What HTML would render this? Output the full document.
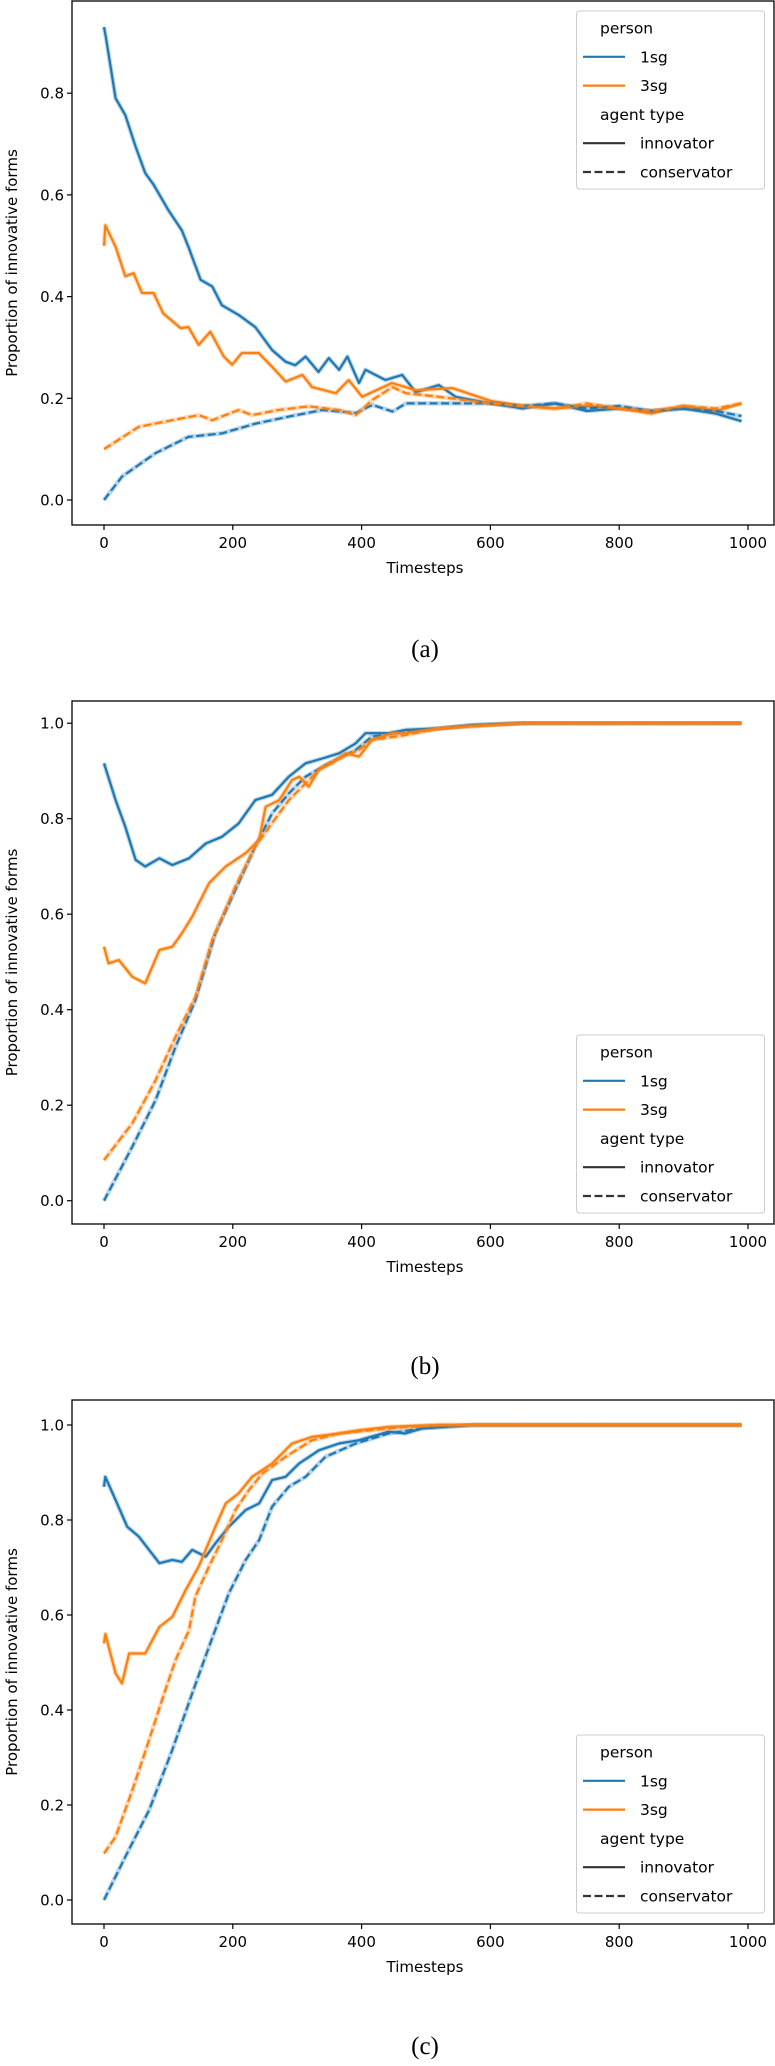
<!DOCTYPE html>
<html><head><meta charset="utf-8"><style>
body{margin:0;background:#fff;width:775px;height:2066px;overflow:hidden}
svg{display:block}
text{font-family:"DejaVu Sans","Liberation Sans",sans-serif;fill:#000}
.cap{font-family:"Liberation Serif",serif;font-size:25px}
</style></head><body>
<svg id="fig" width="775" height="2066" viewBox="0 0 775 2066" xmlns="http://www.w3.org/2000/svg"></svg>
<script>
const xTicks=[0,200,400,600,800,1000];
const yTicksA=[0,0.2,0.4,0.6,0.8];
const yTicksBC=[0,0.2,0.4,0.6,0.8,1.0];
// Panel (a)
const aInnov1T=[0,3,18,33,49,64,77,100,121,131,150,168,183,209,235,261,282,297,313,333,349,365,378,396,406,437,463,484,520,546,600,650,700,750,800,850,900,950,990];
const aInnov1V=[0.93,0.91,0.79,0.757,0.695,0.643,0.62,0.57,0.53,0.498,0.433,0.42,0.383,0.364,0.34,0.295,0.272,0.265,0.282,0.252,0.279,0.256,0.282,0.23,0.256,0.236,0.246,0.212,0.226,0.203,0.19,0.18,0.19,0.175,0.18,0.175,0.18,0.17,0.155];
const aInnov3T=[0,2,18,33,46,59,77,92,119,131,147,165,186,199,214,240,261,282,308,323,360,380,401,447,484,541,600,650,700,750,800,850,900,950,990];
const aInnov3V=[0.5,0.54,0.498,0.44,0.446,0.407,0.407,0.367,0.338,0.34,0.305,0.331,0.282,0.266,0.289,0.289,0.262,0.233,0.246,0.222,0.21,0.236,0.203,0.23,0.216,0.22,0.195,0.185,0.18,0.185,0.18,0.17,0.185,0.175,0.19];
const aCons1T=[0,28,80,131,183,235,287,339,391,417,448,469,520,600,650,700,750,800,850,900,950,990];
const aCons1V=[0,0.046,0.092,0.124,0.131,0.15,0.164,0.177,0.171,0.187,0.174,0.19,0.19,0.19,0.185,0.19,0.18,0.185,0.175,0.18,0.175,0.165];
const aCons3T=[0,54,106,147,168,209,230,271,318,365,391,417,448,469,520,600,650,700,750,800,850,900,950,990];
const aCons3V=[0.1,0.144,0.157,0.167,0.157,0.177,0.167,0.177,0.184,0.177,0.167,0.197,0.222,0.21,0.203,0.19,0.185,0.18,0.19,0.18,0.175,0.185,0.18,0.19];
// Panel (b)
const bInnov1T=[0,18,33,49,64,86,106,132,158,183,209,235,261,287,313,339,365,391,406,442,468,520,572,650,800,990];
const bInnov1V=[0.916,0.839,0.783,0.714,0.70,0.717,0.703,0.717,0.748,0.762,0.79,0.839,0.85,0.888,0.916,0.926,0.937,0.958,0.979,0.979,0.986,0.989,0.996,1.0,1.0,1.0];
const bInnov3T=[0,7,23,44,64,86,106,121,137,163,189,220,241,251,272,292,303,318,333,354,375,396,416,447,468,520,572,650,800,990];
const bInnov3V=[0.532,0.497,0.504,0.469,0.455,0.525,0.532,0.56,0.595,0.665,0.70,0.728,0.756,0.825,0.839,0.881,0.888,0.867,0.902,0.916,0.937,0.93,0.965,0.979,0.979,0.989,0.994,1.0,1.0,1.0];
const bCons1T=[0,44,80,111,142,173,204,235,261,287,313,349,391,416,468,520,572,650,800,990];
const bCons1V=[0,0.113,0.21,0.322,0.42,0.56,0.651,0.742,0.811,0.853,0.888,0.916,0.944,0.972,0.982,0.989,0.996,1.0,1.0,1.0];
const bCons3T=[0,44,80,111,142,168,204,235,261,287,313,339,365,396,416,468,520,572,650,800,990];
const bCons3V=[0.085,0.162,0.252,0.343,0.427,0.546,0.658,0.742,0.791,0.839,0.874,0.909,0.926,0.944,0.965,0.975,0.989,0.994,1.0,1.0,1.0];
// Panel (c)
const cInnov1T=[0,2,18,36,54,70,86,106,121,137,158,173,194,220,241,261,282,303,334,365,396,442,468,494,572,700,990];
const cInnov1V=[0.87,0.891,0.842,0.786,0.765,0.737,0.709,0.716,0.712,0.737,0.723,0.751,0.786,0.821,0.835,0.884,0.891,0.919,0.947,0.961,0.968,0.986,0.982,0.993,1.0,1.0,1.0];
const cInnov3T=[0,2,18,28,39,64,86,106,127,147,173,189,209,230,261,292,323,365,396,442,520,700,990];
const cInnov3V=[0.54,0.56,0.477,0.456,0.519,0.519,0.575,0.596,0.653,0.702,0.786,0.835,0.856,0.891,0.919,0.961,0.975,0.982,0.989,0.996,1.0,1.0,1.0];
const cCons3T=[0,18,44,70,90,111,132,142,163,183,204,225,246,282,323,365,416,468,520,700,990];
const cCons3V=[0.098,0.133,0.231,0.337,0.421,0.505,0.568,0.639,0.702,0.758,0.821,0.863,0.898,0.933,0.968,0.982,0.989,0.996,1.0,1.0,1.0];
const cCons1T=[0,33,70,106,137,163,194,220,241,261,287,313,344,391,442,494,572,700,990];
const cCons1V=[0,0.091,0.189,0.316,0.435,0.533,0.646,0.716,0.758,0.828,0.87,0.891,0.933,0.961,0.982,0.993,1.0,1.0,1.0];

const BLUE='#1f77b4',ORANGE='#ff7f0e';
const svg=document.getElementById('fig');
const NS='http://www.w3.org/2000/svg';
function mk(tag,attrs,parent){const e=document.createElementNS(NS,tag);for(const k in attrs)e.setAttribute(k,attrs[k]);(parent||svg).appendChild(e);return e;}

function panel(id,cfg){
  const g=mk('g',{});
  
  
  const L=72,R=774,T=cfg.top,B=cfg.bottom;
  const xs=t=>104+t*0.644;
  const ys=v=>cfg.y0-v*cfg.ypx;
  // ticks
  xTicks.forEach(t=>{
    const x=xs(t);
    const tk=mk('line',{x1:x,x2:x,y1:B,y2:B+5,stroke:'#000','stroke-width':1.2},g);
    
    
    const tl=mk('text',{x:x,y:B+23,'font-size':15,'text-anchor':'middle'},g);tl.textContent=String(t);
    
    
  });
  cfg.yTicks.forEach(v=>{
    const y=ys(v);
    const tk=mk('line',{x1:L-5,x2:L,y1:y,y2:y,stroke:'#000','stroke-width':1.2},g);
    
    
    const tl=mk('text',{x:L-8,y:y+5.5,'font-size':15,'text-anchor':'end'},g);tl.textContent=v.toFixed(1);
    
    
  });
  // series
  cfg.series.forEach(s=>{
    const d=s.t.map((t,i)=>(i?'L':'M')+xs(t).toFixed(1)+','+ys(s.v[i]).toFixed(1)).join(' ');
    const band=mk('path',{d:d,fill:'none',stroke:s.c,'stroke-opacity':0.3,'stroke-width':4.5,'stroke-linejoin':'round'},g);
    
    
    const p=mk('path',{d:d,fill:'none',stroke:s.c,'stroke-width':2.2,'stroke-linejoin':'round'},g);
    if(s.dash)p.setAttribute('stroke-dasharray','8,3.5');
    
    
  });
  const fr=mk('rect',{x:L,y:T,width:R-L,height:B-T,fill:'none',stroke:'#000','stroke-width':1.3},g);
  
  
  const xt=mk('text',{x:425,y:B+48,'font-size':15,'text-anchor':'middle'},g);xt.textContent='Timesteps';
  
  
  const cy=(T+B)/2;
  const yt=mk('text',{x:0,y:0,'font-size':15,'text-anchor':'middle',transform:'translate(17,'+cy+') rotate(-90)'},g);yt.textContent='Proportion of innovative forms';
  
  
  // legend
  const lg=mk('g',{},g);
  
  
  const ly=cfg.legTop;
  mk('rect',{x:576.5,y:ly,width:188,height:178,rx:3,fill:'#fff','fill-opacity':0.8,stroke:'#ccc','stroke-width':1},lg);
  const rows=[['person',null,false,true],['1sg',BLUE,false],['3sg',ORANGE,false],['agent type',null,false,true],['innovator','#333',false],['conservator','#333',true]];
  rows.forEach((r,i)=>{
    const y=ly+17+i*28.8;
    const t=mk('text',{x:r[3]?600:640,y:y+5.5,'font-size':15.5},lg);t.textContent=r[0];
    
    
    if(r[1]){const l=mk('line',{x1:583,x2:625,y1:y,y2:y,stroke:r[1],'stroke-width':2.2},lg);if(r[2])l.setAttribute('stroke-dasharray','8,3.5');}
  });
  const cap=mk('text',{x:425,y:cfg.capY,'text-anchor':'middle','class':'cap'},g);cap.textContent='('+id+')';
  
  
}

panel('a',{top:1,bottom:525,y0:500,ypx:508.5,yTicks:yTicksA,legTop:11,capY:657,series:[
 {name:'1sg-innovator',t:aInnov1T,v:aInnov1V,c:BLUE},
 {name:'3sg-innovator',t:aInnov3T,v:aInnov3V,c:ORANGE},
 {name:'1sg-conservator',t:aCons1T,v:aCons1V,c:BLUE,dash:true},
 {name:'3sg-conservator',t:aCons3T,v:aCons3V,c:ORANGE,dash:true}]});
panel('b',{top:701,bottom:1224,y0:1200.7,ypx:477.5,yTicks:yTicksBC,legTop:1035,capY:1374,series:[
 {name:'1sg-innovator',t:bInnov1T,v:bInnov1V,c:BLUE},
 {name:'1sg-conservator',t:bCons1T,v:bCons1V,c:BLUE,dash:true},
 {name:'3sg-innovator',t:bInnov3T,v:bInnov3V,c:ORANGE},
 {name:'3sg-conservator',t:bCons3T,v:bCons3V,c:ORANGE,dash:true}]});
panel('c',{top:1400,bottom:1924,y0:1900,ypx:475,yTicks:yTicksBC,legTop:1735,capY:2054,series:[
 {name:'1sg-innovator',t:cInnov1T,v:cInnov1V,c:BLUE},
 {name:'1sg-conservator',t:cCons1T,v:cCons1V,c:BLUE,dash:true},
 {name:'3sg-innovator',t:cInnov3T,v:cInnov3V,c:ORANGE},
 {name:'3sg-conservator',t:cCons3T,v:cCons3V,c:ORANGE,dash:true}]});
</script>
</body></html>
